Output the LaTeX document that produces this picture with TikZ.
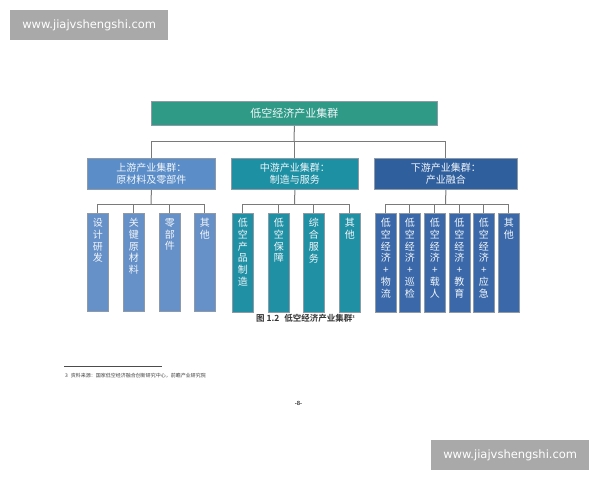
\documentclass[tikz,border=0pt]{standalone}
\usepackage{fontspec}
\setmainfont{Liberation Sans}
\newfontfamily\cjk{Noto Sans CJK SC}
\newfontfamily\cjkb{Noto Sans CJK SC Bold}
\newfontfamily\wm{DejaVu Sans}
\definecolor{topc}{HTML}{2F9B86}
\definecolor{upc}{HTML}{5B8DC8}
\definecolor{midc}{HTML}{1E90A4}
\definecolor{dnc}{HTML}{305F9E}
\definecolor{upl}{HTML}{6690C8}
\definecolor{midl}{HTML}{2090A4}
\definecolor{dnl}{HTML}{3A68A8}
\definecolor{edgec}{HTML}{8F9AA6}
\definecolor{linec}{HTML}{7A7A7A}
\definecolor{txtc}{HTML}{F2F6FA}
\definecolor{wmc}{HTML}{A9A9A9}
\tikzset{
  box/.style={draw=edgec, line width=0.8pt, inner sep=0pt, anchor=north west, text=txtc, font=\cjk\fontsize{10}{11.5}\selectfont, align=center},
  vbox/.style={draw=edgec, line width=0.8pt, inner sep=0pt, anchor=north west, minimum width=21pt, minimum height=98pt},
  vtxt/.style={anchor=north, inner sep=0pt, text=txtc, align=center, font=\cjk\fontsize{10}{11.8}\selectfont},
  conn/.style={draw=linec, line width=1pt},
  wmbox/.style={fill=wmc, inner sep=0pt, anchor=north west, minimum width=158pt, minimum height=30pt, text=white, font=\wm\fontsize{11.5}{13}\selectfont}
}
\begin{document}
\begin{tikzpicture}[x=1pt,y=-1pt]
\useasboundingbox[fill=white] (0,0) rectangle (600,480);
% watermarks
\node[wmbox] (wm1) at (10,10) {www.jiajvshengshi.com};
\node[wmbox] (wm2) at (431,440) {www.jiajvshengshi.com};
% top
\node[box, fill=topc, minimum width=286pt, minimum height=24pt, font=\cjk\fontsize{11}{13}\selectfont] (top) at (151,101) {低空经济产业集群};
% level 2
\node[box, fill=upc, minimum width=128pt, minimum height=31pt] (u) at (87,158) {上游产业集群：\\原材料及零部件};
\node[box, fill=midc, minimum width=127pt, minimum height=31pt] (m) at (231,158) {中游产业集群：\\制造与服务};
\node[box, fill=dnc, minimum width=143pt, minimum height=31pt] (d) at (374,158) {下游产业集群：\\产业融合};
\coordinate (j1) at (294,141.7);
\draw[conn] (top.south) -- (j1);
\draw[conn] (u.north) -- (u.north |- j1) -- (d.north |- j1) -- (d.north);
\draw[conn] (m.north) -- (m.north |- j1);
% level 3 upstream
\node[vbox, fill=upl] (u1) at (87,213) {};
\node[vbox, fill=upl] (u2) at (123,213) {};
\node[vbox, fill=upl] (u3) at (159,213) {};
\node[vbox, fill=upl] (u4) at (194,213) {};
\node[vtxt] (tu1) at ([yshift=-5pt]u1.north) {设\\计\\研\\发};
\node[vtxt] (tu2) at ([yshift=-5pt]u2.north) {关\\键\\原\\材\\料};
\node[vtxt] (tu3) at ([yshift=-5pt]u3.north) {零\\部\\件};
\node[vtxt] (tu4) at ([yshift=-5pt]u4.north) {其\\他};
\coordinate (j2) at (151,204);
\draw[conn] (u.south) -- (j2);
\draw[conn] (u1.north) -- (u1.north |- j2) -- (u4.north |- j2) -- (u4.north);
\draw[conn] (u2.north) -- (u2.north |- j2);
\draw[conn] (u3.north) -- (u3.north |- j2);
% level 3 middle
\node[vbox, fill=midl, minimum height=99pt] (m1) at (232,213) {};
\node[vbox, fill=midl, minimum height=99pt] (m2) at (268,213) {};
\node[vbox, fill=midl, minimum height=99pt] (m3) at (303,213) {};
\node[vbox, fill=midl, minimum height=99pt] (m4) at (339,213) {};
\node[vtxt] (tm1) at ([yshift=-5pt]m1.north) {低\\空\\产\\品\\制\\造};
\node[vtxt] (tm2) at ([yshift=-5pt]m2.north) {低\\空\\保\\障};
\node[vtxt] (tm3) at ([yshift=-5pt]m3.north) {综\\合\\服\\务};
\node[vtxt] (tm4) at ([yshift=-5pt]m4.north) {其\\他};
\coordinate (j3) at (294.5,204);
\draw[conn] (m.south) -- (j3);
\draw[conn] (m1.north) -- (m1.north |- j3) -- (m4.north |- j3) -- (m4.north);
\draw[conn] (m2.north) -- (m2.north |- j3);
\draw[conn] (m3.north) -- (m3.north |- j3);
% level 3 downstream
\node[vbox, fill=dnl, minimum height=99pt] (d1) at (375,213) {};
\node[vbox, fill=dnl, minimum height=99pt] (d2) at (399,213) {};
\node[vbox, fill=dnl, minimum height=99pt] (d3) at (424,213) {};
\node[vbox, fill=dnl, minimum height=99pt] (d4) at (448.5,213) {};
\node[vbox, fill=dnl, minimum height=99pt] (d5) at (473,213) {};
\node[vbox, fill=dnl, minimum height=99pt] (d6) at (498,213) {};
\node[vtxt] (td1) at ([yshift=-5pt]d1.north) {低\\空\\经\\济\\+\\物\\流};
\node[vtxt] (td2) at ([yshift=-5pt]d2.north) {低\\空\\经\\济\\+\\巡\\检};
\node[vtxt] (td3) at ([yshift=-5pt]d3.north) {低\\空\\经\\济\\+\\载\\人};
\node[vtxt] (td4) at ([yshift=-5pt]d4.north) {低\\空\\经\\济\\+\\教\\育};
\node[vtxt] (td5) at ([yshift=-5pt]d5.north) {低\\空\\经\\济\\+\\应\\急};
\node[vtxt] (td6) at ([yshift=-5pt]d6.north) {其\\他};
\coordinate (j4) at (445.5,204.5);
\draw[conn] (d.south) -- (j4);
\draw[conn] (d1.north) -- (d1.north |- j4) -- (d6.north |- j4) -- (d6.north);
\foreach \n in {d2,d3,d4,d5} \draw[conn] (\n.north) -- (\n.north |- j4);
% caption
\node[anchor=west, inner sep=0pt, text=black!80, font=\cjkb\fontsize{8.5}{10}\selectfont] (cap) at (256,318.5) {图 1.2\hspace{5pt}低空经济产业集群\raisebox{3pt}{\fontsize{4}{4}\selectfont 3}};
% footnote
\coordinate (fl1) at (64,366);
\coordinate (fl2) at (162,366);
\draw[black!70, line width=0.7pt] (fl1) -- (fl2);
\node[anchor=west, inner sep=0pt, text=black!75, font=\cjk\fontsize{5}{6}\selectfont] (fn) at (65,375.5) {3\hspace{3pt}资料来源：国家低空经济融合创新研究中心，前瞻产业研究院};
\node[inner sep=0pt, text=black!75, font=\fontsize{6}{7}\selectfont\bfseries] (pg) at (298.5,403.5) {-8-};
\end{tikzpicture}
\end{document}
